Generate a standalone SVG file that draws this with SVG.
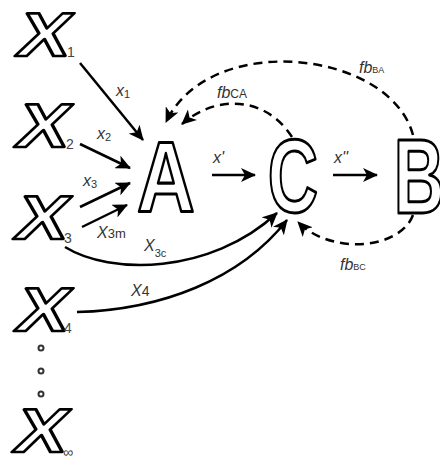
<svg xmlns="http://www.w3.org/2000/svg" width="440" height="462" viewBox="0 0 440 462">
<defs>
<style>
.big{font-family:"Liberation Sans",Arial,sans-serif;font-weight:bold;fill:#fff;stroke:#000;stroke-width:3;stroke-linejoin:round}
.bx{font-family:"Liberation Sans",Arial,sans-serif;font-weight:bold;fill:#fff;stroke:#000;stroke-width:2.6;stroke-linejoin:round;font-size:62px}
.sub{font-family:"Liberation Sans",Arial,sans-serif;fill:#444;font-size:14px}
.lab{font-family:"Liberation Sans",Arial,sans-serif;fill:#333;font-style:italic;font-size:16px}
.sm{font-style:normal;font-size:11px}
.ln{fill:none;stroke:#000;stroke-width:2.5}
.ds{fill:none;stroke:#000;stroke-width:2.5;stroke-dasharray:9 6}
</style>
<marker id="ah" markerUnits="userSpaceOnUse" markerWidth="16" markerHeight="14" refX="14" refY="7" orient="auto">
<path d="M0,0 L15,7 L0,14 L4,7 Z" fill="#000"/>
</marker>
</defs>
<g id="connectors">
<path class="ln" d="M80,63 L143,140" marker-end="url(#ah)"/>
<path class="ln" d="M80,144 L130,168" marker-end="url(#ah)"/>
<path class="ln" d="M80,207 L130,183" marker-end="url(#ah)"/>
<path class="ln" d="M82,227 L127,205" marker-end="url(#ah)"/>
<path class="ln" d="M212,175 L255,175" marker-end="url(#ah)"/>
<path class="ln" d="M333,175 L377,175" marker-end="url(#ah)"/>
<path class="ln" d="M65,247 C110,275 210,275 277,213" marker-end="url(#ah)"/>
<path class="ln" d="M77,312 C160,310 240,280 287,220" marker-end="url(#ah)"/>
<path class="ds" d="M413,135 C390,50 210,30 166,122" marker-end="url(#ah)"/>
<path class="ds" d="M292,137 C265,95 215,95 182,124" marker-end="url(#ah)"/>
<path class="ds" d="M413,215 C400,250 330,255 298,222" marker-end="url(#ah)"/>
</g>
<g id="X1"><text class="bx" text-anchor="middle" transform="translate(40,56) skewX(-14) scale(1.25,1)">X</text><text class="sub" x="67" y="57">1</text></g>
<g id="X2"><text class="bx" text-anchor="middle" transform="translate(39,147) skewX(-14) scale(1.25,1)">X</text><text class="sub" x="66" y="149">2</text></g>
<g id="X3"><text class="bx" text-anchor="middle" transform="translate(38,239) skewX(-14) scale(1.25,1)">X</text><text class="sub" x="64" y="243">3</text></g>
<g id="X4"><text class="bx" text-anchor="middle" transform="translate(39,331) skewX(-14) scale(1.25,1)">X</text><text class="sub" x="64" y="333" font-size="11">4</text></g>
<g id="dots" fill="none" stroke="#333" stroke-width="2"><circle cx="41" cy="348" r="2.5"/><circle cx="41" cy="371" r="2.5"/><circle cx="41" cy="394" r="2.5"/></g>
<g id="Xinf"><text class="bx" text-anchor="middle" transform="translate(37,452) skewX(-14) scale(1.25,1)">X</text><text class="sub" x="63" y="457" font-size="10">∞</text></g>
<g id="A"><text class="big" font-size="100" text-anchor="middle" transform="translate(166,212) scale(0.8,1)">A</text></g>
<g id="C"><text class="big" font-size="104" text-anchor="middle" transform="translate(293,212) scale(0.67,1)">C</text></g>
<g id="B"><text class="big" font-size="106" text-anchor="middle" transform="translate(419,213) scale(0.66,1)">B</text></g>
<g id="labels">
<text class="lab" x="116" y="96">x<tspan class="sm" dy="2">1</tspan></text>
<text class="lab" x="97" y="139">x<tspan class="sm" dy="2">2</tspan></text>
<text class="lab" x="83" y="186">x<tspan class="sm" dy="2">3</tspan></text>
<text class="lab" x="97" y="238">X<tspan font-style="normal" font-size="13">3m</tspan></text>
<text class="lab" x="144" y="251">X<tspan class="sm" dy="6">3c</tspan></text>
<text class="lab" x="131" y="296">X<tspan font-style="normal" font-size="14">4</tspan></text>
<text class="lab" x="213" y="163">x'</text>
<text class="lab" x="334" y="163">x''</text>
<text class="lab" x="359" y="73" font-size="14">fb<tspan font-style="normal" font-size="9">BA</tspan></text>
<text class="lab" x="217" y="98" font-size="14">fb<tspan font-style="normal" font-size="12">CA</tspan></text>
<text class="lab" x="340" y="270" font-size="14">fb<tspan font-style="normal" font-size="9">BC</tspan></text>
</g>
</svg>
